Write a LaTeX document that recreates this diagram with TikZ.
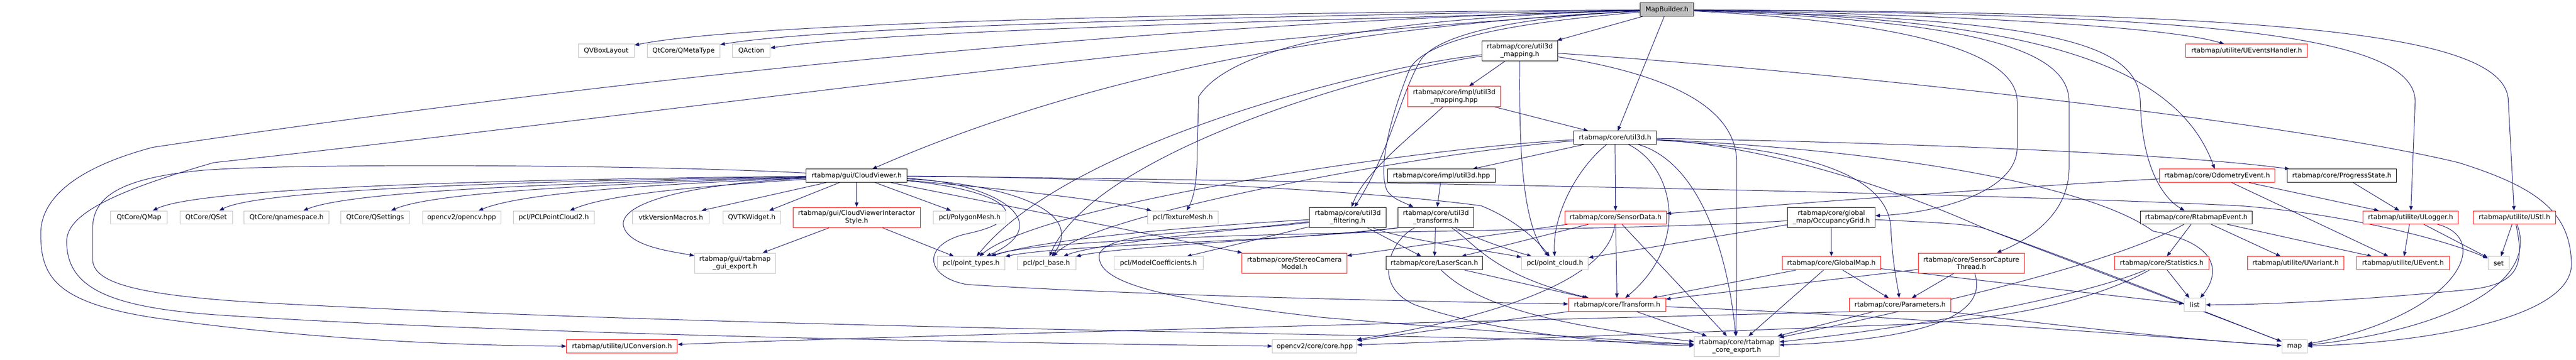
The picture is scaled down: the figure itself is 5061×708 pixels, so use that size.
\documentclass[tikz,border=0pt]{standalone}
\usepackage{fontspec}
\setmainfont{DejaVu Sans}
\usetikzlibrary{arrows.meta}
\pgfdeclarelayer{edgelayer}
\pgfsetlayers{edgelayer,main}
\definecolor{edgecol}{HTML}{191970}
\definecolor{extgray}{HTML}{BFBFBF}
\begin{document}
\begin{tikzpicture}[x=1pt,y=-1pt,
  box/.style={draw, rectangle, line width=1pt, inner xsep=2pt, inner ysep=0pt, minimum height=26pt, font=\fontsize{13}{15}\selectfont, align=center, fill=white, text=black},
  gbox/.style={box, draw=extgray},
  kbox/.style={box, draw=black},
  rbox/.style={box, draw=red},
  two/.style={minimum height=40pt},
  edg/.style={draw=edgecol, line width=1pt, -{Triangle[length=9pt,width=7pt]}},
]
\useasboundingbox (0,0) rectangle (5061,708);
% ---- nodes ----
\node[kbox, fill=extgray, minimum width=106pt] (mb) at (3275,19) {MapBuilder.h};
\node[gbox, minimum width=110pt] (qvb) at (1191,100) {QVBoxLayout};
\node[gbox, minimum width=143pt] (qmt) at (1343,100) {QtCore/QMetaType};
\node[gbox, minimum width=74pt] (qac) at (1476,100) {QAction};
\node[kbox, two, minimum width=149pt] (u3m) at (2986,100) {rtabmap/core/util3d\\\_mapping.h};
\node[rbox, minimum width=239pt] (ueh) at (4414,100) {rtabmap/utilite/UEventsHandler.h};
\node[rbox, two, minimum width=182pt] (u3mh) at (2857,190) {rtabmap/core/impl/util3d\\\_mapping.hpp};
\node[kbox, minimum width=163pt] (u3d) at (3173,271) {rtabmap/core/util3d.h};
\node[kbox, minimum width=198pt] (cv) at (1683,346) {rtabmap/gui/CloudViewer.h};
\node[kbox, minimum width=211pt] (u3dh) at (2832,346) {rtabmap/core/impl/util3d.hpp};
\node[rbox, minimum width=226pt] (oe) at (4356,346) {rtabmap/core/OdometryEvent.h};
\node[kbox, minimum width=214pt] (ps) at (4601,346) {rtabmap/core/ProgressState.h};
\node[gbox, minimum width=111pt] (qmap) at (273,428) {QtCore/QMap};
\node[gbox, minimum width=103pt] (qset) at (405,428) {QtCore/QSet};
\node[gbox, minimum width=167pt] (qns) at (563,428) {QtCore/qnamespace.h};
\node[gbox, minimum width=135pt] (qst) at (737,428) {QtCore/QSettings};
\node[gbox, minimum width=154pt] (ocv) at (907,428) {opencv2/opencv.hpp};
\node[gbox, minimum width=159pt] (pcl2) at (1088,428) {pcl/PCLPointCloud2.h};
\node[gbox, minimum width=151pt] (vtk) at (1318,428) {vtkVersionMacros.h};
\node[gbox, minimum width=113pt] (qvtk) at (1477,428) {QVTKWidget.h};
\node[rbox, two, minimum width=250pt] (cvis) at (1683,428) {rtabmap/gui/CloudViewerInteractor\\Style.h};
\node[gbox, minimum width=143pt] (pmesh) at (1905,428) {pcl/PolygonMesh.h};
\node[gbox, minimum width=139pt] (tmesh) at (2324,428) {pcl/TextureMesh.h};
\node[kbox, two, minimum width=151pt] (u3f) at (2648,428) {rtabmap/core/util3d\\\_filtering.h};
\node[kbox, two, minimum width=149pt] (u3t) at (2821,428) {rtabmap/core/util3d\\\_transforms.h};
\node[rbox, minimum width=199pt] (sd) at (3174,428) {rtabmap/core/SensorData.h};
\node[kbox, two, minimum width=172pt] (og) at (3598,428) {rtabmap/core/global\\\_map/OccupancyGrid.h};
\node[kbox, minimum width=220pt] (re) at (4315,428) {rtabmap/core/RtabmapEvent.h};
\node[rbox, minimum width=187pt] (ul) at (4736,428) {rtabmap/utilite/ULogger.h};
\node[rbox, minimum width=162pt] (us) at (4940,428) {rtabmap/utilite/UStl.h};
\node[gbox, two, minimum width=159pt] (gexp) at (1444,518) {rtabmap/gui/rtabmap\\\_gui\_export.h};
\node[gbox, minimum width=133pt] (pt) at (1908,518) {pcl/point\_types.h};
\node[gbox, minimum width=115pt] (pb) at (2056,518) {pcl/pcl\_base.h};
\node[gbox, minimum width=175pt] (mc) at (2276,518) {pcl/ModelCoefficients.h};
\node[rbox, two, minimum width=206pt] (scm) at (2543,518) {rtabmap/core/StereoCamera\\Model.h};
\node[kbox, minimum width=190pt] (ls) at (2818,518) {rtabmap/core/LaserScan.h};
\node[gbox, minimum width=131pt] (pc) at (3055,518) {pcl/point\_cloud.h};
\node[rbox, minimum width=193pt] (gm) at (3598,518) {rtabmap/core/GlobalMap.h};
\node[rbox, two, minimum width=209pt] (sct) at (3873,518) {rtabmap/core/SensorCapture\\Thread.h};
\node[rbox, minimum width=185pt] (st) at (4247,518) {rtabmap/core/Statistics.h};
\node[rbox, minimum width=189pt] (uv) at (4510,518) {rtabmap/utilite/UVariant.h};
\node[rbox, minimum width=182pt] (uev) at (4721,518) {rtabmap/utilite/UEvent.h};
\node[gbox, minimum width=42pt] (set) at (4909,518) {set};
\node[rbox, minimum width=191pt] (tr) at (3177,600) {rtabmap/core/Transform.h};
\node[rbox, minimum width=199pt] (par) at (3733,600) {rtabmap/core/Parameters.h};
\node[gbox, minimum width=42pt] (list) at (4312,600) {list};
\node[rbox, minimum width=218pt] (uc) at (1222,682) {rtabmap/utilite/UConversion.h};
\node[gbox, minimum width=166pt] (cvc) at (2583,682) {opencv2/core/core.hpp};
\node[gbox, two, minimum width=167pt] (cexp) at (3412,682) {rtabmap/core/rtabmap\\\_core\_export.h};
\node[gbox, minimum width=50pt] (map) at (4508,682) {map};
% ---- edges ----
\begin{pgfonlayer}{edgelayer}
\fill[white] (0,0) rectangle (5061,708);
% MapBuilder
\draw[edg] (mb) .. controls (2600,24) and (1500,38) .. (qvb);
\draw[edg] (mb) .. controls (2600,30) and (1650,48) .. (qmt);
\draw[edg] (mb) .. controls (2600,40) and (1760,58) .. (qac);
\draw[edg] (mb) -- (u3m);
\draw[edg] (mb) -- (u3d);
\draw[edg] (mb) .. controls (2750,45) and (2200,120) .. (cv);
\draw[edg] (mb) .. controls (2200,45) and (1100,170) .. (300,290) .. controls (150,330) and (80,390) .. (80,460) .. controls (80,545) and (110,595) .. (300,625) .. controls (600,668) and (900,680) .. (uc);
\draw[edg] (mb) .. controls (2300,75) and (1300,225) .. (420,320) .. controls (230,375) and (131,420) .. (131,475) .. controls (131,565) and (210,605) .. (430,620) .. controls (1000,658) and (2000,676) .. (cvc);
\draw[edg] (mb) .. controls (3050,30) and (2830,55) .. (2790,120) .. controls (2750,190) and (2730,300) .. (u3f);
\draw[edg] (mb) .. controls (3040,40) and (2810,65) .. (2770,135) .. controls (2735,220) and (2705,330) .. (2725,375) .. controls (2735,390) and (2750,395) .. (u3t);
\draw[edg] (mb) .. controls (2700,35) and (2420,90) .. (2355,190) -- (2352,300) .. controls (2352,360) and (2345,390) .. (tmesh);
\draw[edg] (mb) .. controls (3800,28) and (4250,50) .. (ueh);
\draw[edg] (mb) .. controls (3950,35) and (4270,110) .. (oe);
\draw[edg] (mb) .. controls (4020,38) and (4200,80) .. (4205,200) .. controls (4208,330) and (4250,390) .. (re);
\draw[edg] (mb) .. controls (4350,28) and (4745,70) .. (4745,200) -- (ul);
\draw[edg] (mb) .. controls (4450,25) and (4928,60) .. (4928,200) -- (us);
\draw[edg] (mb) .. controls (3850,40) and (4065,90) .. (4065,200) -- (4065,330) .. controls (4065,420) and (3990,470) .. (sct);
\draw[edg] (mb) .. controls (3780,45) and (3963,110) .. (3963,200) -- (3963,290) .. controls (3963,380) and (3800,420) .. (og);
% util3d_mapping.h
\draw[edg] (u3m) -- (u3mh);
\draw[edg] (u3m) .. controls (3300,150) and (3412,220) .. (3412,320) -- (3412,560) .. controls (3412,610) and (3410,640) .. (cexp);
\draw[edg] (u3m) .. controls (3600,140) and (4500,240) .. (4830,320) .. controls (4990,370) and (5050,420) .. (5052,520) .. controls (5052,630) and (4750,675) .. (map);
\draw[edg] (u3m) .. controls (2985,250) and (2985,440) .. (pc);
\draw[edg] (u3m) .. controls (2700,130) and (2100,280) .. (pt);
\draw[edg] (u3m) .. controls (2700,140) and (2150,300) .. (pb);
% impl/util3d_mapping.hpp
\draw[edg] (u3mh) -- (u3d);
\draw[edg] (u3mh) .. controls (2770,270) and (2680,340) .. (u3f);
% util3d.h
\draw[edg] (u3d) -- (u3dh);
\draw[edg] (u3d) -- (sd);
\draw[edg] (u3d) .. controls (3100,330) and (3050,420) .. (pc);
\draw[edg] (u3d) .. controls (3290,330) and (3320,480) .. (tr);
\draw[edg] (u3d) .. controls (3340,320) and (3395,500) .. (cexp);
\draw[edg] (u3d) .. controls (3500,290) and (3710,330) .. (3715,450) .. controls (3718,520) and (3728,560) .. (par);
\draw[edg] (u3d) .. controls (3700,280) and (4250,300) .. (ps);
\draw[edg] (u3d) .. controls (3800,300) and (4130,380) .. (4230,455) .. controls (4365,480) and (4360,540) .. (list);
\draw[edg] (u3d) .. controls (2800,290) and (2050,400) .. (pt);
\draw[edg] (u3d) .. controls (2800,300) and (2150,420) .. (pb);
\draw[edg] (u3d) .. controls (3450,285) and (3700,360) .. (3900,450) .. controls (4150,545) and (4360,625) .. (map);
% impl/util3d.hpp
\draw[edg] (u3dh) -- (u3t);
% CloudViewer
\draw[edg] (cv) .. controls (1100,352) and (400,365) .. (qmap);
\draw[edg] (cv) .. controls (1150,355) and (520,368) .. (qset);
\draw[edg] (cv) .. controls (1200,358) and (700,372) .. (qns);
\draw[edg] (cv) .. controls (1250,360) and (860,375) .. (qst);
\draw[edg] (cv) .. controls (1300,362) and (1030,378) .. (ocv);
\draw[edg] (cv) .. controls (1400,365) and (1200,380) .. (pcl2);
\draw[edg] (cv) -- (vtk);
\draw[edg] (cv) -- (qvtk);
\draw[edg] (cv) -- (cvis);
\draw[edg] (cv) -- (pmesh);
\draw[edg] (cv) .. controls (1950,370) and (2150,390) .. (tmesh);
\draw[edg] (cv) .. controls (1960,360) and (2080,440) .. (pt);
\draw[edg] (cv) .. controls (2000,365) and (2130,420) .. (pb);
\draw[edg] (cv) -- (scm);
\draw[edg] (cv) .. controls (1980,375) and (2040,430) .. (1900,460) .. controls (1810,480) and (1815,545) .. (1900,560) .. controls (2300,585) and (2900,595) .. (tr);
\draw[edg] (cv) .. controls (2100,348) and (2650,370) .. (2910,405) .. controls (2960,425) and (3010,460) .. (pc);
\draw[edg] (cv) .. controls (2600,355) and (3900,380) .. (4400,405) .. controls (4600,420) and (4800,470) .. (set);
\draw[edg] (cv) .. controls (1350,362) and (1215,400) .. (1225,445) .. controls (1235,485) and (1320,495) .. (gexp);
\draw[edg] (cv) .. controls (1300,325) and (600,320) .. (400,335) .. controls (240,350) and (182,385) .. (182,450) -- (182,510) .. controls (182,555) and (260,580) .. (500,595) .. controls (1500,650) and (2800,655) .. (cexp);
% CloudViewerInteractorStyle
\draw[edg] (cvis) -- (gexp);
\draw[edg] (cvis) -- (pt);
% util3d_filtering
\draw[edg] (u3f) .. controls (2350,445) and (2050,470) .. (pt);
\draw[edg] (u3f) .. controls (2400,455) and (2150,480) .. (pb);
\draw[edg] (u3f) -- (mc);
\draw[edg] (u3f) -- (ls);
\draw[edg] (u3f) .. controls (2750,470) and (2900,490) .. (pc);
\draw[edg] (u3f) .. controls (2400,460) and (2180,450) .. (2160,500) .. controls (2150,560) and (2300,590) .. (2600,625) .. controls (2900,650) and (3150,668) .. (cexp);
% util3d_transforms
\draw[edg] (u3t.south west) .. controls (2550,475) and (2100,480) .. (pt);
\draw[edg] (u3t.south west) .. controls (2550,470) and (2200,485) .. (pb);
\draw[edg] (u3t) -- (ls);
\draw[edg] (u3t) .. controls (2900,470) and (2960,490) .. (pc);
\draw[edg] (u3t) .. controls (2900,480) and (2930,540) .. (tr);
\draw[edg] (u3t) .. controls (2735,470) and (2690,560) .. (2780,600) .. controls (2950,660) and (3200,678) .. (cexp);
% SensorData
\draw[edg] (sd) -- (scm);
\draw[edg] (sd) -- (ls);
\draw[edg] (sd) -- (tr);
\draw[edg] (sd) -- (cexp);
\draw[edg] (sd) .. controls (3160,560) and (2900,630) .. (cvc);
% OccupancyGrid
\draw[edg] (og) -- (gm);
\draw[edg] (og) -- (pc);
\draw[edg] (og) .. controls (3300,450) and (2700,455) .. (2400,465) .. controls (2150,475) and (2000,485) .. (pt);
\draw[edg] (og) .. controls (3780,437) and (3870,440) .. (3900,450) .. controls (4150,540) and (4360,625) .. (map);
% GlobalMap
\draw[edg] (gm) -- (tr);
\draw[edg] (gm) -- (cexp);
\draw[edg] (gm) -- (par);
\draw[edg] (gm) .. controls (3750,535) and (4000,565) .. (list);
% SensorCaptureThread
\draw[edg] (sct) -- (tr);
\draw[edg] (sct) -- (par);
\draw[edg] (sct) .. controls (3910,630) and (3750,670) .. (cexp);
% Transform
\draw[edg] (tr) -- (cexp);
\draw[edg] (tr) -- (cvc);
\draw[edg] (tr) .. controls (3700,620) and (4200,660) .. (map);
% Parameters
\draw[edg] (par) -- (cexp);
\draw[edg] (par.south west) .. controls (3000,630) and (1800,660) .. (uc);
\draw[edg] (par) .. controls (3950,630) and (4250,665) .. (map);
% LaserScan
\draw[edg] (ls) -- (tr);
\draw[edg] (ls) .. controls (2900,600) and (3050,640) .. (cexp);
% RtabmapEvent
\draw[edg] (re) -- (st);
\draw[edg] (re) -- (uv);
\draw[edg] (re) -- (uev);
\draw[edg] (re) .. controls (4150,520) and (3800,600) .. (cexp);
% OdometryEvent
\draw[edg] (oe) .. controls (4000,365) and (3600,395) .. (sd);
\draw[edg] (oe) -- (ul);
\draw[edg] (oe) -- (uev);
% ProgressState
\draw[edg] (ps) -- (ul);
% ULogger
\draw[edg] (ul) -- (uev);
\draw[edg] (ul) -- (set);
\draw[edg] (ul) .. controls (4900,470) and (4830,620) .. (map);
% UStl
\draw[edg] (us) -- (set);
\draw[edg] (us) .. controls (4960,520) and (4950,560) .. (4850,570) .. controls (4650,590) and (4450,600) .. (list);
\draw[edg] (us) .. controls (4990,560) and (4800,650) .. (map);
% Statistics
\draw[edg] (st) -- (list);
\draw[edg] (st) .. controls (4100,580) and (3800,640) .. (cexp);
\draw[edg] (st) .. controls (4100,600) and (3900,635) .. (3700,640) -- (cvc);
\end{pgfonlayer}
\end{tikzpicture}
\end{document}
